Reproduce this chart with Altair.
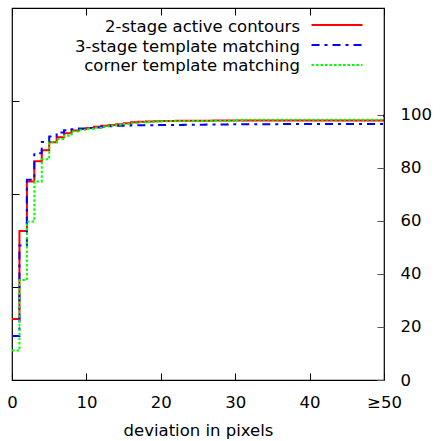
import altair as alt
import pandas as pd

# ---- data ----
deviation = list(range(0, 51))
series_names = ["2-stage active contours", "3-stage template matching", "corner template matching"]

active_contours = [23.0, 56.2, 74.8, 82.4, 86.6, 89.6, 91.5, 93.0, 94.0, 94.6,
                   95.0, 95.4, 95.8, 96.1, 96.4, 96.8, 97.1, 97.3, 97.4, 97.5,
                   97.6, 97.6, 97.7, 97.7, 97.7, 97.7, 97.7, 97.8, 97.8, 97.8,
                   97.8, 97.8, 97.8, 97.8, 97.8, 97.8, 97.8, 97.8, 97.8, 97.8,
                   97.8, 97.8, 97.8, 97.8, 97.8, 97.8, 97.8, 97.8, 97.8, 97.8,
                   100.0]
template_3stage = [16.6, 50.7, 75.5, 85.5, 89.7, 91.8, 93.3, 94.1, 94.5, 94.8,
                   95.0, 95.2, 95.4, 95.6, 95.8, 95.9, 96.0, 96.0, 96.0, 96.1,
                   96.1, 96.1, 96.1, 96.2, 96.2, 96.2, 96.3, 96.3, 96.3, 96.4,
                   96.4, 96.4, 96.4, 96.4, 96.4, 96.4, 96.5, 96.5, 96.5, 96.5,
                   96.5, 96.5, 96.5, 96.5, 96.5, 96.5, 96.5, 96.5, 96.5, 96.5,
                   100.0]
corner_template = [11.1, 37.7, 59.7, 74.8, 83.2, 89.6, 90.8, 92.1, 93.7, 94.3,
                   94.7, 95.1, 95.5, 95.9, 96.2, 96.5, 96.8, 97.1, 97.3, 97.4,
                   97.5, 97.6, 97.6, 97.6, 97.6, 97.6, 97.6, 97.6, 97.6, 97.6,
                   98.0, 98.1, 98.1, 98.1, 98.1, 98.1, 98.1, 98.1, 98.1, 98.1,
                   98.1, 98.1, 98.1, 98.1, 98.1, 98.1, 98.1, 98.1, 98.1, 98.1,
                   100.0]

series_colors = ["#ff0000", "#0000ff", "#00ff00"]
series_dashes = [[1, 0], [8, 5, 3, 5], [2.5, 2]]

x_ticks = [0, 10, 20, 30, 40, 50]
x_tick_labels = ["0", "10", "20", "30", "40", "≥50"]
right_ticks = [0, 20, 40, 60, 80, 100]
left_ticks = [0, 35.05, 70.1, 105.15, 140.2]
y_max = 140.2

# ---- build table ----
rows = []
for name, vals in zip(series_names, [active_contours, template_3stage, corner_template]):
    for x, y in zip(deviation, vals):
        rows.append({"series": name, "x": x, "y": y})
df = pd.DataFrame(rows)

label_expr = "".join(
    f"datum.value == {v} ? '{lab}' : " for v, lab in zip(x_ticks, x_tick_labels)
) + "datum.label"

FONT = "DejaVu Sans"
FS = 16.5

x_scale = alt.Scale(domain=[0, 50], nice=False, zero=False)
y_scale = alt.Scale(domain=[0, y_max], nice=False, zero=True)

lines = alt.Chart(df).mark_line(interpolate="step-after", strokeWidth=2, clip=True).encode(
    x=alt.X("x:Q", scale=x_scale,
            axis=alt.Axis(orient="bottom", values=x_ticks, labelExpr=label_expr,
                          offset=-7, tickSize=7, domain=False, grid=False,
                          labelPadding=14, labelFontSize=FS, labelFont=FONT,
                          labelColor="black", tickColor="black", labelFlush=False,
                          labelOverlap=False,
                          title="deviation in pixels", titleFont=FONT,
                          titleFontSize=FS, titleFontWeight="normal",
                          titleColor="black", titlePadding=11.5)),
    y=alt.Y("y:Q", scale=y_scale,
            axis=alt.Axis(orient="right", values=right_ticks, offset=-7, tickSize=7,
                          domain=False, grid=False, labelPadding=16,
                          labelAlign="left", labelFontSize=FS, labelFont=FONT,
                          labelColor="black", tickColor="#555555",
                          labelFlush=False, labelOverlap=False, title=None)),
    color=alt.Color("series:N", scale=alt.Scale(domain=series_names, range=series_colors), legend=None),
    strokeDash=alt.StrokeDash("series:N", scale=alt.Scale(domain=series_names, range=series_dashes), legend=None),
    detail="series:N",
)

ghost = alt.Chart(df).mark_point(opacity=0).encode(
    x=alt.X("x:Q", scale=x_scale,
            axis=alt.Axis(orient="top", values=x_ticks, labels=False, title=None,
                          offset=-7, tickSize=7, domain=False, grid=False,
                          tickColor="black")),
    y=alt.Y("y:Q", scale=y_scale,
            axis=alt.Axis(orient="left", values=left_ticks, labels=False, title=None,
                          offset=-7, tickSize=7, domain=False, grid=False,
                          tickColor="black")),
)

legend_layers = []
for i, (name, col, dash) in enumerate(zip(series_names, series_colors, series_dashes)):
    one = pd.DataFrame({"series": [name]})
    txt = alt.Chart(one).mark_text(align="right", baseline="alphabetic", font=FONT,
                                   fontSize=FS, color="black").encode(
        x=alt.value(288), y=alt.value(24.2 + 19.6 * i), text="series:N")
    sample = alt.Chart(one).mark_rule(color=col, strokeWidth=2, strokeDash=dash).encode(
        x=alt.value(299.5), x2=alt.value(350.5), y=alt.value(17 + 20 * i))
    legend_layers += [txt, sample]

chart = alt.layer(ghost, lines, *legend_layers).resolve_axis(
    x="independent", y="independent"
).properties(
    width=372, height=372,
    autosize=alt.AutoSizeParams(type="none"),
    padding={"left": 12, "top": 8, "right": 62, "bottom": 61},
    background="white",
).configure_view(stroke="black", strokeWidth=1.2)

chart.save("out.html", embed_options={"renderer": "svg", "actions": False})
